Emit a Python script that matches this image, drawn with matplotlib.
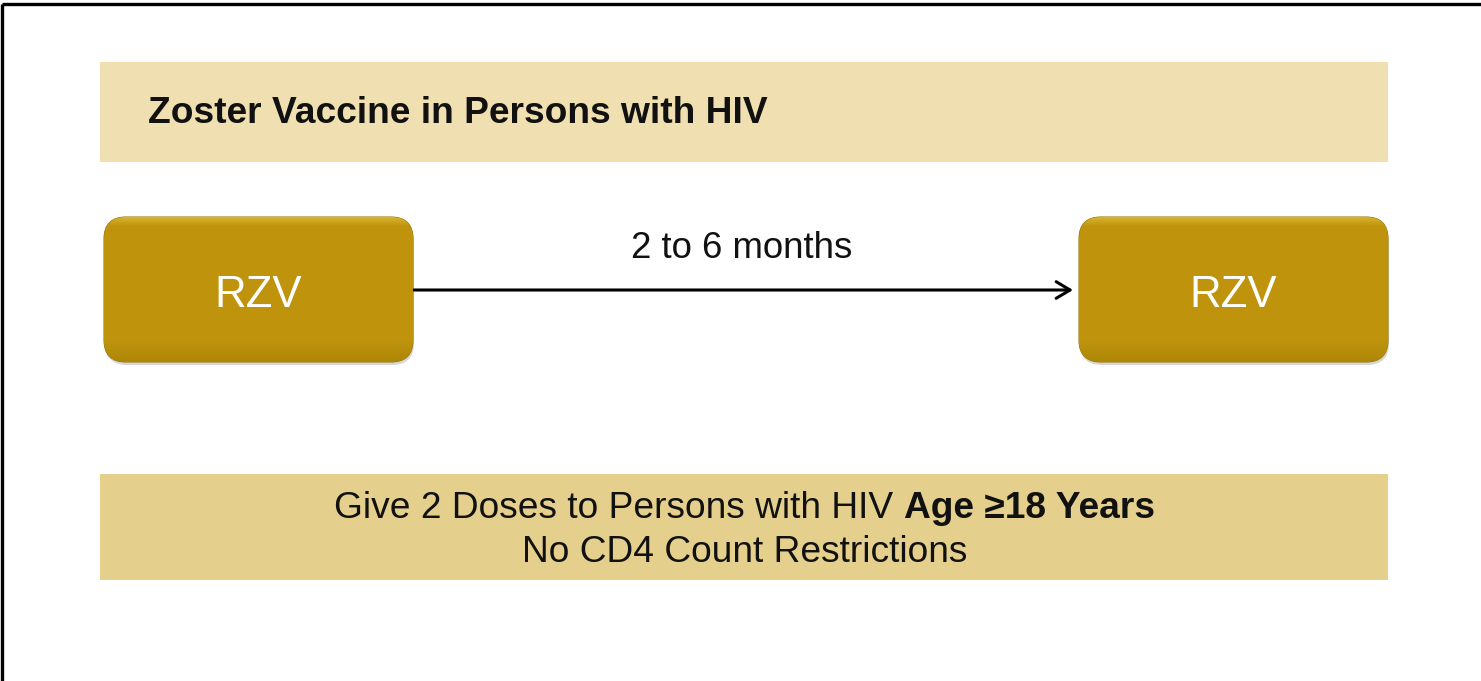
import matplotlib
matplotlib.use("Agg")
import matplotlib.pyplot as plt
import numpy as np
from matplotlib.patches import FancyBboxPatch, Rectangle, FancyArrowPatch

# ---- content ----
title_text = "Zoster Vaccine in Persons with HIV"
dose_labels = ["RZV", "RZV"]
interval_label = "2 to 6 months"
note_regular = "Give 2 Doses to Persons with HIV "
note_bold = "Age \u226518 Years"
note_line2 = "No CD4 Count Restrictions"

W, H = 1481, 681
plt.rcParams['font.family'] = ['Liberation Sans', 'DejaVu Sans']

fig = plt.figure(figsize=(W / 100, H / 100), dpi=100)
ax = fig.add_axes([0, 0, 1, 1])
ax.set_xlim(0, W)
ax.set_ylim(H, 0)
ax.axis('off')

# outer frame (top and left edges)
ax.plot([2, W], [4, 4], color='black', lw=2.4, solid_capstyle='butt')
ax.plot([2, 2], [4, H], color='black', lw=2.4, solid_capstyle='butt')

# title band
ax.add_patch(Rectangle((100, 62), 1288, 100, facecolor='#EFDFB1', edgecolor='none'))
ax.text(148, 123, title_text, fontsize=26.7, fontweight='bold', ha='left', va='baseline', color='#111111')

# dose boxes
box_x = [104, 1079]
box_w, box_y, box_h = 309, 217, 145
t = np.linspace(0, 1, 256)
top_c = np.array([0.85, 0.70, 0.18])
mid_c = np.array([0.75, 0.58, 0.05])
bot_c = np.array([0.68, 0.53, 0.03])
cols = np.empty((256, 3))
for i, ti in enumerate(t):
    if ti < 0.06:
        cols[i] = top_c + (mid_c - top_c) * (ti / 0.06)
    elif ti < 0.85:
        cols[i] = mid_c
    else:
        cols[i] = mid_c + (bot_c - mid_c) * ((ti - 0.85) / 0.15)
img = np.repeat(cols[:, None, :], 2, axis=1)

for bx, lab in zip(box_x, dose_labels):
    shadow = FancyBboxPatch((bx + 1, box_y + 3), box_w, box_h,
                            boxstyle="round,pad=0,rounding_size=22",
                            facecolor='#8a8a8a', edgecolor='none', alpha=0.35)
    ax.add_patch(shadow)
    p = FancyBboxPatch((bx, box_y), box_w, box_h,
                       boxstyle="round,pad=0,rounding_size=22",
                       facecolor='#BE950E', edgecolor='#9c7a0a', lw=0.8)
    ax.add_patch(p)
    im = ax.imshow(img, extent=(bx, bx + box_w, box_y + box_h, box_y),
                   aspect='auto', zorder=2, interpolation='bilinear')
    im.set_clip_path(p)
    ax.text(bx + box_w / 2, 307, lab, fontsize=31.5, color='white',
            ha='center', va='baseline', zorder=3)

# arrow
arr = FancyArrowPatch((414, 290), (1073, 290), arrowstyle='->,head_length=10,head_width=6',
                      color='black', lw=2.2, mutation_scale=1, shrinkA=0, shrinkB=0)
ax.add_patch(arr)
ax.text(742, 258, interval_label, fontsize=26.4, ha='center', va='baseline', color='#111111')

# bottom band
ax.add_patch(Rectangle((100, 474), 1288, 106, facecolor='#E4D08C', edgecolor='none'))
fig.canvas.draw()
r = fig.canvas.get_renderer()
t1 = ax.text(0, 518, note_regular, fontsize=26.7, ha='left', va='baseline', color='#111111')
t2 = ax.text(0, 518, note_bold, fontsize=26.7, fontweight='bold', ha='left', va='baseline', color='#111111')
w1 = t1.get_window_extent(r).width
w2 = t2.get_window_extent(r).width
cx = 744.5
x0 = cx - (w1 + w2) / 2
t1.set_x(x0)
t2.set_x(x0 + w1)
ax.text(cx, 562, note_line2, fontsize=26.7, ha='center', va='baseline', color='#111111')

fig.savefig('out.png', dpi=100)
